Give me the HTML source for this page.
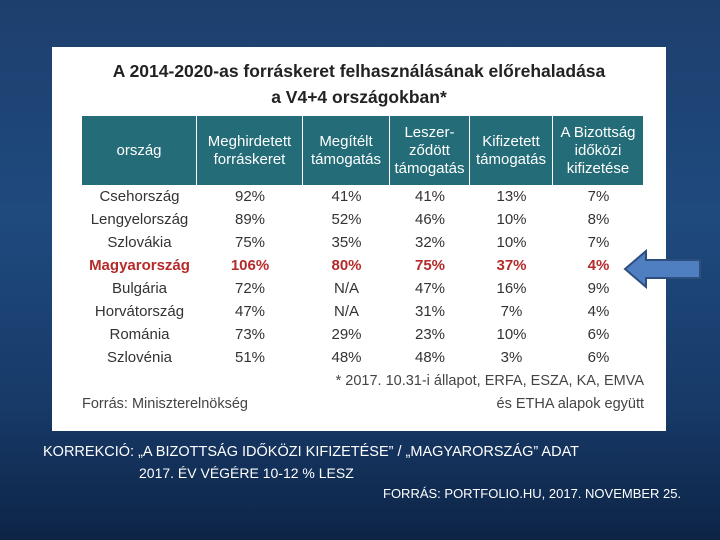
<!DOCTYPE html>
<html><head><meta charset="utf-8"><style>
body{margin:0;width:720px;height:540px;overflow:hidden;background:linear-gradient(180deg,#1d3f6e 0%,#1f4a7e 40%,#173a68 75%,#0d2446 100%);font-family:"Liberation Sans",sans-serif;position:relative}
.panel{position:absolute;left:52px;top:47px;width:614px;height:384px;background:#fff}
.title{position:absolute;left:0;width:614px;text-align:center;font-size:17.5px;font-weight:bold;color:#222}
.hdr{position:absolute;top:69px;height:69px;background:#236c78;color:#fff;font-size:15px;display:flex;align-items:center;justify-content:center;text-align:center;line-height:18px;box-sizing:border-box;border-right:1px solid #fff}
.cell{position:absolute;font-size:15px;color:#333;text-align:center;width:90px}
.red{color:#b52a2a;font-weight:bold}
.note{position:absolute;font-size:14.5px;color:#444}
.foot{position:absolute;color:#fff;font-size:14.5px;font-family:"Liberation Sans Narrow","Liberation Sans",sans-serif}
</style></head><body>
<div class="panel">
<div class="title" style="top:14px">A 2014-2020-as forráskeret felhasználásának előrehaladása</div>
<div class="title" style="top:40px">a V4+4 országokban*</div>
<div id="table"></div>
<div class="note" style="right:22px;top:326px">* 2017. 10.31-i állapot, ERFA, ESZA, KA, EMVA</div>
<div class="note" style="right:22px;top:349px">és ETHA alapok együtt</div>
<div class="note" style="left:30px;top:349px">Forrás: Miniszterelnökség</div>
</div>
<svg style="position:absolute;left:622px;top:248px" width="82" height="42"><polygon points="3,21 24,3 24,12 78,12 78,30 24,30 24,39" fill="#4f7fc0" stroke="#2d4f80" stroke-width="2"/></svg>
<div class="foot" style="left:43px;top:444px;font-size:14.5px">KORREKCIÓ: „A BIZOTTSÁG IDŐKÖZI KIFIZETÉSE” / „MAGYARORSZÁG” ADAT</div>
<div class="foot" style="left:139px;top:465px;font-size:14px">2017. ÉV VÉGÉRE 10-12 % LESZ</div>
<div class="foot" style="left:383px;top:486px;font-size:13px">FORRÁS: PORTFOLIO.HU, 2017. NOVEMBER 25.</div>
<script>
const headers=["ország","Meghirdetett<br>forráskeret","Megítélt<br>támogatás","Leszer-<br>ződött<br>támogatás","Kifizetett<br>támogatás","A Bizottság<br>időközi<br>kifizetése"];
const countries=["Csehország","Lengyelország","Szlovákia","Magyarország","Bulgária","Horvátország","Románia","Szlovénia"];
const meghirdetett=["92%","89%","75%","106%","72%","47%","73%","51%"];
const megitelt=["41%","52%","35%","80%","N/A","N/A","29%","48%"];
const leszerzodott=["41%","46%","32%","75%","47%","31%","23%","48%"];
const kifizetett=["13%","10%","10%","37%","16%","7%","10%","3%"];
const bizottsag=["7%","8%","7%","4%","9%","4%","6%","6%"];
const edges=[30,145,251,338,418,501,592];
const t=document.getElementById('table');
headers.forEach((h,i)=>{const d=document.createElement('div');d.className='hdr';d.style.left=edges[i]+'px';d.style.width=(edges[i+1]-edges[i])+'px';d.innerHTML=h;


t.appendChild(d);});
const cols=[countries,meghirdetett,megitelt,leszerzodott,kifizetett,bizottsag];
countries.forEach((c,r)=>{cols.forEach((arr,ci)=>{const d=document.createElement('div');d.className='cell'+(r===3?' red':'');
const cx=(edges[ci]+edges[ci+1])/2;const w=ci===0?130:90;d.style.width=w+'px';d.style.left=(cx-w/2)+'px';d.style.top=(141+r*23)+'px';d.textContent=arr[r];


t.appendChild(d);});});
</script>
</body></html>
